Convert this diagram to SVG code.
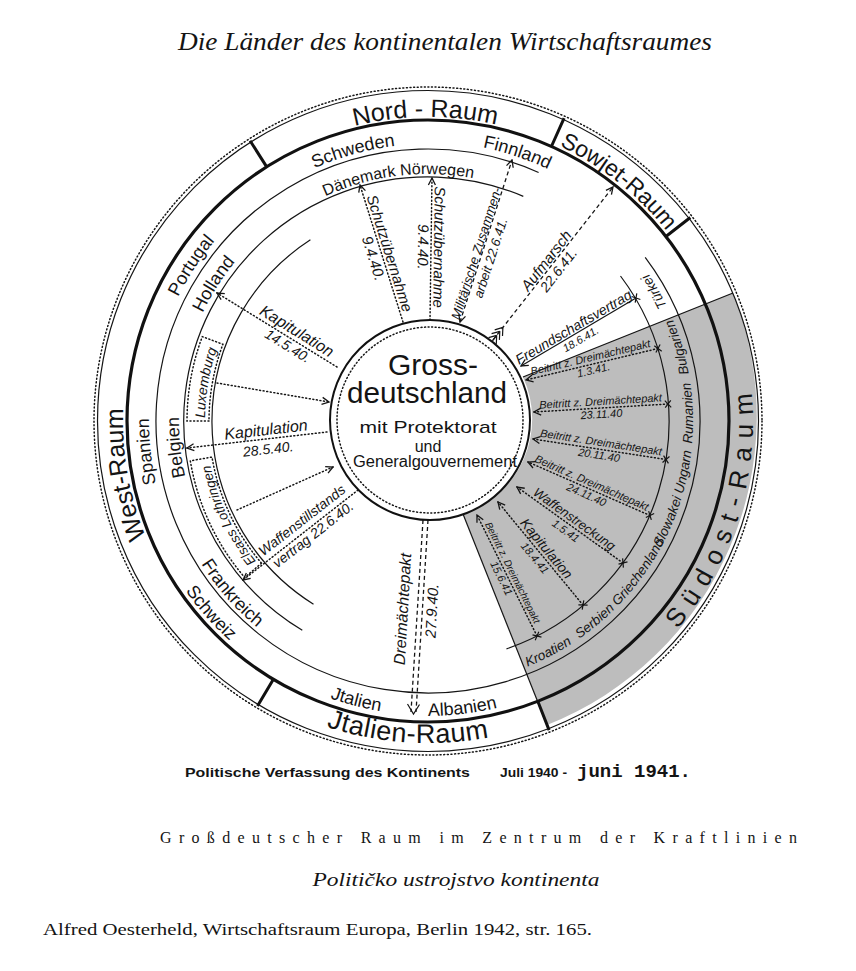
<svg xmlns="http://www.w3.org/2000/svg" width="856" height="971" viewBox="0 0 856 971">
<style>
.ln{fill:none;stroke:#151515;stroke-width:1.2}
.thick{fill:none;stroke:#111;stroke-width:3.2}
.div{fill:none;stroke:#111;stroke-width:3}
.dot{fill:none;stroke:#151515;stroke-width:1.5;stroke-dasharray:1 2.6;stroke-linecap:round}
.dash{fill:none;stroke:#151515;stroke-width:1.3;stroke-dasharray:4 3}
.sans{font-family:"Liberation Sans",Arial,sans-serif;fill:#141414}
.raum{font-size:25px}
.land{font-size:18px}
.lab{font-style:italic}
.serif{font-family:"Liberation Serif","Times New Roman",serif;fill:#141414}
</style>
<defs>
<marker id="ah" viewBox="-9 -5 10 10" refX="0" refY="0" markerWidth="10" markerHeight="10" markerUnits="userSpaceOnUse" orient="auto"><path d="M-7,-3.5 L0,0 L-7,3.5" fill="none" stroke="#151515" stroke-width="1.3"/></marker>
<marker id="ahs" viewBox="-9 -5 10 10" refX="0" refY="0" markerWidth="10" markerHeight="10" markerUnits="userSpaceOnUse" orient="auto-start-reverse"><path d="M-7,-3.5 L0,0 L-7,3.5" fill="none" stroke="#151515" stroke-width="1.3"/></marker>
<marker id="xm" viewBox="-5 -5 10 10" refX="0" refY="0" markerWidth="10" markerHeight="10" markerUnits="userSpaceOnUse" orient="auto"><path d="M-3,-3.5 L3,3.5 M-3,3.5 L3,-3.5" fill="none" stroke="#151515" stroke-width="1.2"/></marker>
<path id="p-nord" d="M273.7,159.1 A304,304 0 0 1 577.7,156.4"/>
<path id="p-west" d="M194.4,617.1 A305,305 0 0 1 141.4,316.7"/>
<path id="p-sowjet" d="M473.1,119.4 A305,305 0 0 1 711.8,309.2"/>
<path id="p-sued" d="M606.9,692.3 A325,325 0 0 0 726.3,291.9"/>
<path id="p-ital" d="M249.3,688.9 A322,322 0 0 0 570.7,709.7"/>
<path id="p-schweden" d="M230.4,226.9 A277,277 0 0 1 497.4,152.8"/>
<path id="p-finn" d="M371.9,147.7 A279,279 0 0 1 636.6,235.8"/>
<path id="p-port" d="M149.5,404.9 A279,279 0 0 1 302.6,171.7"/>
<path id="p-span" d="M202.8,585.8 A279,279 0 0 1 172.7,308.4"/>
<path id="p-schweiz" d="M137.9,480.0 A296,296 0 0 0 334.1,701.7"/>
<path id="p-jtal" d="M222.3,631.1 A294,294 0 0 0 507.1,704.2"/>
<path id="p-alb" d="M311.8,692.1 A295,295 0 0 0 604.7,657.2"/>
<path id="p-dan" d="M279.4,223.7 A247,247 0 0 1 524.5,193.6"/>
<path id="p-holl" d="M178.3,409.7 A250,250 0 0 1 312.9,199.0"/>
<path id="p-belg" d="M226.6,567.4 A249,249 0 0 1 200.5,319.7"/>
<path id="p-frank" d="M165.2,473.5 A268,268 0 0 0 342.1,674.8"/>
<path id="p-lux" d="M218.7,498.0 A223,223 0 0 1 256.7,278.3"/>
<path id="p-els" d="M301.6,603.5 A222,222 0 0 1 206.8,402.8"/>
<path id="p-se" d="M474.0,682.0 A265,265 0 0 0 615.4,233.6"/>
</defs>
<rect width="856" height="971" fill="#fff"/>

<text class="serif" x="445" y="50" font-size="26" font-style="italic" text-anchor="middle" textLength="534" lengthAdjust="spacingAndGlyphs">Die Länder des kontinentalen Wirtschaftsraumes</text>

<g id="shade">
<path d="M523,377 L733,293 A332,332 0 0 1 547,725 L463,514 A100,100 0 0 0 523,377 Z" fill="#bdbdbd"/>
<path d="M523,377 L733,293" class="ln" stroke-width="1.3"/>
<path d="M463,514 L547,725" class="ln" stroke-width="1.7"/>
</g>

<g id="rings">
<circle cx="428" cy="421" r="334" class="dot"/>
<circle cx="428" cy="421" r="330.5" class="ln" stroke-width="1"/>
<circle cx="428" cy="421" r="301" class="thick"/>
<path d="M645.2,257.3 A272,272 0 1 1 538.6,172.5" class="ln"/>
<path d="M302.3,630.2 A244,244 0 0 1 523.3,196.4" class="ln"/>
<path d="M620.5,276.0 A241,241 0 0 1 506.5,648.9" class="ln"/>
<path d="M313.5,604.2 A216,216 0 0 1 310.4,239.8" class="ln"/>
<path d="M266.7,166.9 L250.1,140.7 M551.4,146.5 L564.1,118.2 M665.9,236.5 L690.3,217.5 M537.8,701.3 L549.1,730.1 M273.4,679.3 L257.5,705.9" class="div"/>
<path d="M209,421 L187,421 A241,241 0 0 1 202.3,336.6 L222.9,344.3 A219,219 0 0 0 209,421 Z" class="dot" stroke-width="1.2"/>
<path d="M261.5,563.2 L244.7,577.5 A241,241 0 0 1 190.3,460.8 L212.0,457.1 A219,219 0 0 0 261.5,563.2 Z" class="dot" stroke-width="1.2"/>
</g>

<g id="raum-labels" class="sans raum">
<text><textPath href="#p-nord" startOffset="50%" text-anchor="middle">Nord - Raum</textPath></text>
<text><textPath href="#p-west" startOffset="50%" text-anchor="middle">West-Raum</textPath></text>
<text font-size="23"><textPath href="#p-sowjet" startOffset="50%" text-anchor="middle">Sowjet-Raum</textPath></text>
<text font-size="26" letter-spacing="9.5"><textPath href="#p-sued" startOffset="50%" text-anchor="middle">Südost-Raum</textPath></text>
<text font-size="27" letter-spacing="0.5"><textPath href="#p-ital" startOffset="50%" text-anchor="middle">Jtalien-Raum</textPath></text>
</g>

<g id="laender" class="sans land">
<text><textPath href="#p-schweden" startOffset="50%" text-anchor="middle">Schweden</textPath></text>
<text><textPath href="#p-finn" startOffset="50%" text-anchor="middle">Finnland</textPath></text>
<text><textPath href="#p-port" startOffset="50%" text-anchor="middle">Portugal</textPath></text>
<text><textPath href="#p-span" startOffset="50%" text-anchor="middle">Spanien</textPath></text>
<text><textPath href="#p-schweiz" startOffset="50%" text-anchor="middle">Schweiz</textPath></text>
<text><textPath href="#p-jtal" startOffset="50%" text-anchor="middle">Jtalien</textPath></text>
<text><textPath href="#p-alb" startOffset="50%" text-anchor="middle">Albanien</textPath></text>
<text font-size="16"><textPath href="#p-dan" startOffset="50%" text-anchor="middle">Dänemark Nörwegen</textPath></text>
<text><textPath href="#p-holl" startOffset="50%" text-anchor="middle">Holland</textPath></text>
<text><textPath href="#p-belg" startOffset="50%" text-anchor="middle">Belgien</textPath></text>
<text><textPath href="#p-frank" startOffset="50%" text-anchor="middle">Frankreich</textPath></text>
<text font-size="14" font-style="italic"><textPath href="#p-lux" startOffset="50%" text-anchor="middle">Luxemburg</textPath></text>
<text font-size="13.5" font-style="italic"><textPath href="#p-els" startOffset="50%" text-anchor="middle">Elsass Lothringen</textPath></text>
<g font-size="13.5" font-style="italic">
<text><textPath href="#p-se" startOffset="80.9" text-anchor="middle">Kroatien</textPath></text>
<text><textPath href="#p-se" startOffset="138" text-anchor="middle">Serbien</textPath></text>
<text><textPath href="#p-se" startOffset="205" text-anchor="middle">Griechenland</textPath></text>
<text><textPath href="#p-se" startOffset="265" text-anchor="middle">Slowakei</textPath></text>
<text><textPath href="#p-se" startOffset="318" text-anchor="middle">Ungarn</textPath></text>
<text><textPath href="#p-se" startOffset="378" text-anchor="middle">Rumanien</textPath></text>
<text><textPath href="#p-se" startOffset="446" text-anchor="middle">Bulgarien</textPath></text>
<text><textPath href="#p-se" startOffset="507.4" text-anchor="middle">Türkei</textPath></text>
</g>
</g>

<g id="connectors">
<path d="M337,367 L217,293" class="dot" marker-end="url(#ah)"/>
<path d="M217,383 L329,402" class="dot" marker-end="url(#ah)"/>
<path d="M327,432 L187,448" class="dot" marker-end="url(#ah)"/>
<path d="M237,510 L333,467" class="dot" marker-end="url(#ah)"/>
<path d="M358,490 L243,580" class="dot" marker-end="url(#ah)"/>
<path d="M403,322 L360,185" class="dot" marker-end="url(#ah)"/>
<path d="M430,320 L432,178" class="dot" marker-end="url(#ah)"/>
<path d="M460,322 L512,160" class="dash" marker-start="url(#ahs)" marker-end="url(#ah)"/>
<path d="M493,340 L613,187" class="dash" marker-end="url(#ah)"/>
<path d="M496.7,335.3 L492.4,340.8 M496.7,335.3 L496.3,343.9 M496.7,335.3 L488.5,337.7 M499.8,331.3 L499.4,339.9 M499.8,331.3 L491.6,333.7 M502.9,327.4 L502.5,336.0 M502.9,327.4 L494.7,329.8" class="ln"/>
<path d="M636,298 L521,366" class="ln" marker-start="url(#xm)" marker-end="url(#ah)"/>
<path d="M658,348.5 L526,380" class="dot" marker-start="url(#xm)" marker-end="url(#ah)"/>
<path d="M668,404 L534,412" class="dot" marker-start="url(#xm)" marker-end="url(#ah)"/>
<path d="M666,459.5 L533,439" class="dot" marker-start="url(#xm)" marker-end="url(#ah)"/>
<path d="M650,515.5 L528,462" class="dot" marker-start="url(#xm)" marker-end="url(#ah)"/>
<path d="M623,563 L517,487" class="dot" marker-start="url(#xm)" marker-end="url(#ah)"/>
<path d="M583,605 L498,502" class="dot" marker-start="url(#xm)" marker-end="url(#ah)"/>
<path d="M537,636 L477,515" class="dot" marker-start="url(#xm)" marker-end="url(#ah)"/>
<path d="M423,520 L411,712" class="dash" stroke-dasharray="5 2.5"/>
<path d="M428,520 L416,712" class="dash" stroke-dasharray="5 2.5"/>
<path d="M407.5,704 L413.5,714 L419.5,704.5" class="ln" stroke-width="1.3"/>
</g>

<g id="connector-labels" class="sans lab">
<g transform="translate(292,339) rotate(31.7)"><text y="-4" font-size="16" text-anchor="middle">Kapitulation</text><text y="13" font-size="14" text-anchor="middle">14.5.40.</text></g>
<g transform="translate(267,439) rotate(-6.5)"><text y="-4" font-size="16" text-anchor="middle">Kapitulation</text><text y="15" font-size="14" text-anchor="middle">28.5.40.</text></g>
<g transform="translate(308,528) rotate(-38)"><text y="-5" font-size="14" text-anchor="middle">Waffenstillstands</text><text y="13" font-size="14" text-anchor="middle">vertrag 22.6.40.</text></g>
<g transform="translate(381,256) rotate(72.6)"><text y="-4" font-size="15" text-anchor="middle">Schutzübernahme</text><text y="13" font-size="15" text-anchor="middle">9.4.40.</text></g>
<g transform="translate(431,247) rotate(90.8)"><text y="-3" font-size="15" text-anchor="middle">Schutzübernahme</text><text y="13" font-size="15" text-anchor="middle">9.4.40.</text></g>
<g transform="translate(481.5,255) rotate(-72.2)"><text y="-1" font-size="13" text-anchor="middle">Militärische Zusammen-</text><text y="14" font-size="13" text-anchor="middle">arbeit 22.6.41.</text></g>
<g transform="translate(552,265) rotate(-52)"><text y="-2" font-size="15" text-anchor="middle">Aufmarsch</text><text y="13" font-size="14" text-anchor="middle">22.6.41.</text></g>
<g transform="translate(577,333) rotate(-30.6)"><text y="-2" font-size="14" text-anchor="middle">Freundschaftsvertrag</text><text y="11" font-size="11" text-anchor="middle">18.6.41.</text></g>
<g font-size="11">
<g transform="translate(592,364) rotate(-13.4)"><text y="-3" text-anchor="middle">Beitritt z. Dreimächtepakt</text><text y="10" text-anchor="middle">1.3.41.</text></g>
<g transform="translate(601,408) rotate(-3.4)"><text y="-3" text-anchor="middle">Beitritt z. Dreimächtepakt</text><text y="10" text-anchor="middle">23.11.40</text></g>
<g transform="translate(600,449) rotate(8.8)"><text y="-3" text-anchor="middle">Beitritt z. Dreimächtepakt</text><text y="10" text-anchor="middle">20.11.40</text></g>
<g transform="translate(589,489) rotate(23.7)"><text y="-3" text-anchor="middle">Beitritt z. Dreimächtepakt</text><text y="10" text-anchor="middle">24.11.40</text></g>
<g transform="translate(570,525) rotate(35.6)"><text y="-3" font-size="13" text-anchor="middle">Waffenstreckung</text><text y="11" text-anchor="middle">1.5.41</text></g>
<g transform="translate(540.5,553.5) rotate(50.5)"><text y="-3" font-size="14" text-anchor="middle">Kapitulation</text><text y="11" text-anchor="middle">18.4.41</text></g>
<g transform="translate(507,575.5) rotate(63.6)"><text y="-3" font-size="10" text-anchor="middle">Beitritt z. Dreimächtepakt</text><text y="10" text-anchor="middle">15.6.41</text></g>
</g>
<g transform="translate(418,610) rotate(-86.7)"><text y="-10" font-size="16" text-anchor="middle">Dreimächtepakt</text><text y="19" font-size="15" text-anchor="middle">27.9.40.</text></g>
</g>

<g id="grossdeutschland">
<circle cx="430" cy="420" r="100" fill="#fff" stroke="#111" stroke-width="2"/>
<circle cx="430" cy="420" r="93" class="dot" stroke-width="1.3"/>
<g class="sans" text-anchor="middle">
<text x="433" y="375" font-size="30">Gross-</text>
<text x="427" y="403" font-size="29" textLength="160" lengthAdjust="spacingAndGlyphs">deutschland</text>
<text x="428" y="433" font-size="17" textLength="137" lengthAdjust="spacingAndGlyphs">mit Protektorat</text>
<text x="428" y="452" font-size="16">und</text>
<text x="435" y="467" font-size="16" textLength="164" lengthAdjust="spacingAndGlyphs">Generalgouvernement</text>
</g>
</g>

<g id="captions">
<text class="sans" x="185" y="777" font-size="13" font-weight="bold" textLength="285" lengthAdjust="spacingAndGlyphs">Politische Verfassung des Kontinents</text>
<text class="sans" x="500" y="777" font-size="13" font-weight="bold" textLength="67" lengthAdjust="spacingAndGlyphs">Juli 1940 -</text>
<text x="577" y="777" font-size="19" font-weight="bold" font-family="Liberation Mono,Courier New,monospace" fill="#141414">juni 1941.</text>
<text class="serif" x="160" y="843" font-size="16" textLength="637" lengthAdjust="spacing">Großdeutscher Raum im Zentrum der Kraftlinien</text>
<text class="serif" x="456" y="886" font-size="19" font-style="italic" text-anchor="middle" textLength="287" lengthAdjust="spacingAndGlyphs">Političko ustrojstvo kontinenta</text>
<text class="serif" x="43" y="935" font-size="17" textLength="549" lengthAdjust="spacingAndGlyphs">Alfred Oesterheld, Wirtschaftsraum Europa, Berlin 1942, str. 165.</text>
</g>
</svg>
